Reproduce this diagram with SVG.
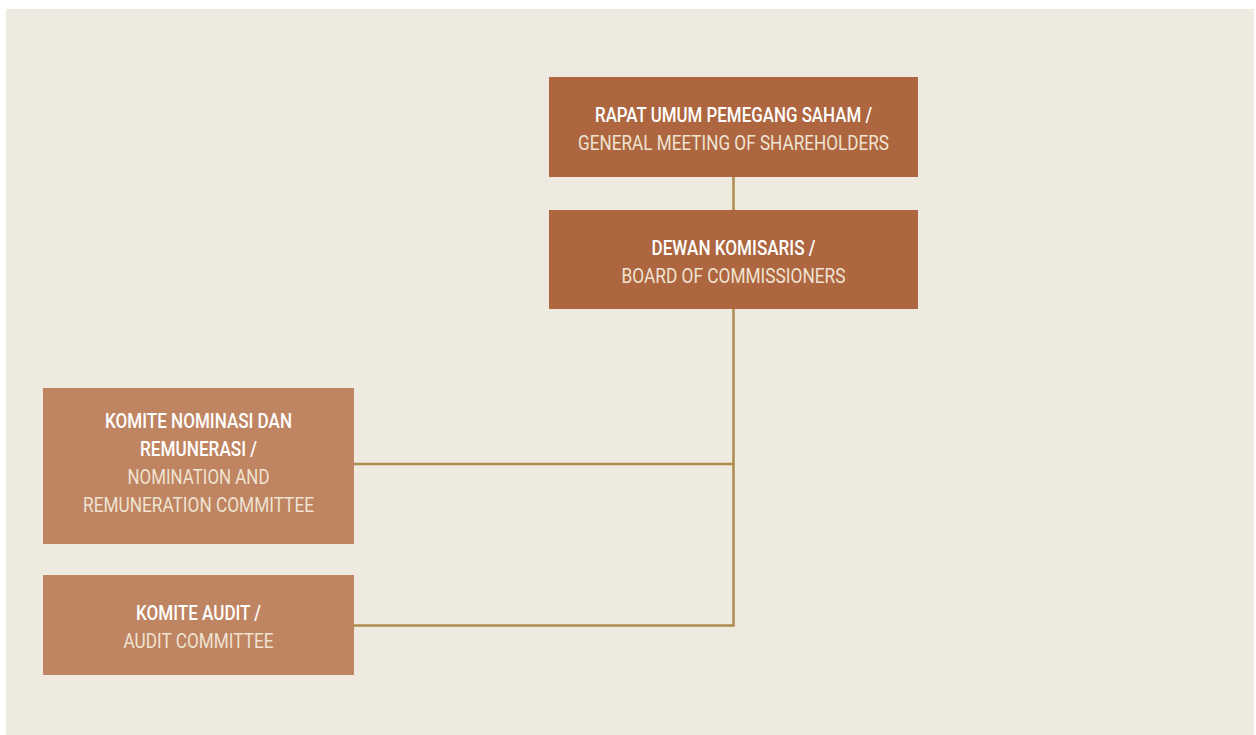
<svg xmlns="http://www.w3.org/2000/svg" width="1256" height="735" viewBox="0 0 1256 735">
<style>
.bg{fill:#efeae0}
.dark{fill:#ad663f}
.light{fill:#bf8461}
.t1{font-family:Roboto,"Liberation Sans",sans-serif;font-size:21px;font-weight:500;fill:#ffffff;text-anchor:middle}
.t2{font-family:Roboto,"Liberation Sans",sans-serif;font-size:21px;font-weight:400;fill:#efe3d2;text-anchor:middle}
.conn{fill:none;stroke:#ad8c4c;stroke-width:2.5}
</style>
<rect x="0" y="0" width="1256" height="735" fill="#ffffff"/>
<rect class="bg" x="6" y="9" width="1248" height="726"/>
<g id="connectors">
<line class="conn" x1="733.5" y1="177" x2="733.5" y2="210"/>
<polyline class="conn" points="733.5,309 733.5,625.5 354,625.5"/>
<line class="conn" x1="354" y1="464" x2="733.5" y2="464"/>
</g>
<g id="rups">
<rect class="dark" x="549" y="77" width="369" height="100"/>
<text class="t1" x="733.5" y="122" textLength="277" lengthAdjust="spacingAndGlyphs">RAPAT UMUM PEMEGANG SAHAM /</text>
<text class="t2" x="733.5" y="150" textLength="311" lengthAdjust="spacingAndGlyphs">GENERAL MEETING OF SHAREHOLDERS</text>
</g>
<g id="dewan">
<rect class="dark" x="549" y="210" width="369" height="99"/>
<text class="t1" x="733.5" y="255" textLength="164" lengthAdjust="spacingAndGlyphs">DEWAN KOMISARIS /</text>
<text class="t2" x="733.5" y="282.5" textLength="224" lengthAdjust="spacingAndGlyphs">BOARD OF COMMISSIONERS</text>
</g>
<g id="nominasi">
<rect class="light" x="43" y="388" width="311" height="156"/>
<text class="t1" x="198.5" y="427.7" textLength="187" lengthAdjust="spacingAndGlyphs">KOMITE NOMINASI DAN</text>
<text class="t1" x="198.5" y="455.7" textLength="117" lengthAdjust="spacingAndGlyphs">REMUNERASI /</text>
<text class="t2" x="198.5" y="483.7" textLength="142" lengthAdjust="spacingAndGlyphs">NOMINATION AND</text>
<text class="t2" x="198.5" y="511.7" textLength="231" lengthAdjust="spacingAndGlyphs">REMUNERATION COMMITTEE</text>
</g>
<g id="audit">
<rect class="light" x="43" y="575" width="311" height="100"/>
<text class="t1" x="198.5" y="620" textLength="125" lengthAdjust="spacingAndGlyphs">KOMITE AUDIT /</text>
<text class="t2" x="198.5" y="648.3" textLength="150" lengthAdjust="spacingAndGlyphs">AUDIT COMMITTEE</text>
</g>
</svg>
